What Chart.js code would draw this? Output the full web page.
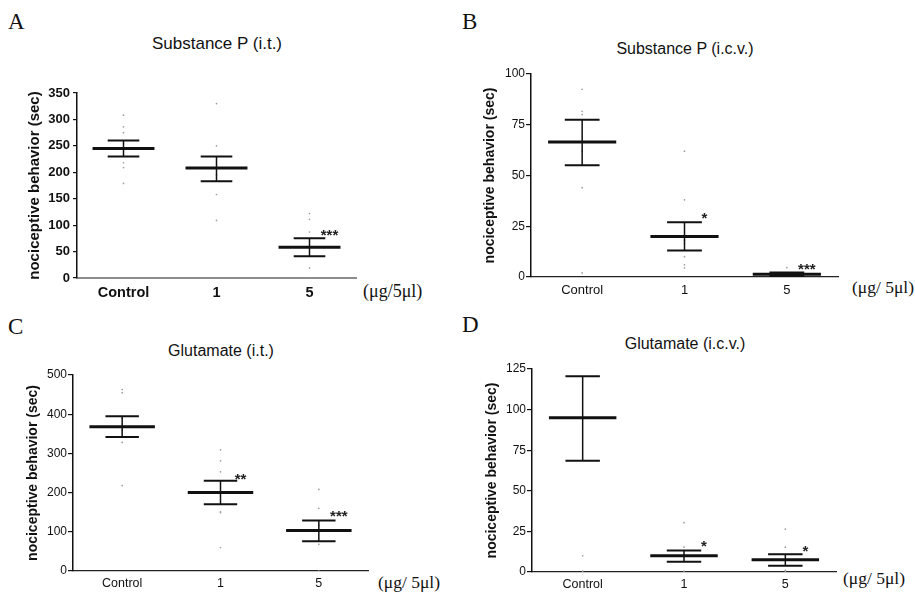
<!DOCTYPE html>
<html>
<head>
<meta charset="utf-8">
<script src="https://cdn.jsdelivr.net/npm/chart.js@4.4.1/dist/chart.umd.min.js"></script>
<style>
body { margin: 0; background: #fff; }
#wrap { position: relative; width: 915px; height: 593px; overflow: hidden; background: #fff; }
.box { position: absolute; }
.lbl { position: absolute; line-height: 1; white-space: nowrap; color: #111; }
.letter { font-family: "Liberation Serif", "Times New Roman", serif; font-size: 23px; }
.ttl { font-family: "Liberation Sans", Arial, sans-serif; font-size: 16px; text-align: center; width: 240px; }
.unit { font-family: "Liberation Serif", "Times New Roman", serif; font-size: 17.5px; }
</style>
</head>
<body>
<div id="wrap">
  <div class="lbl letter" style="left:8px;top:10px">A</div>
  <div class="lbl letter" style="left:462px;top:10px">B</div>
  <div class="lbl letter" style="left:8px;top:315px">C</div>
  <div class="lbl letter" style="left:462px;top:313px">D</div>

  <div class="lbl ttl" style="left:97px;top:35px;font-size:17px">Substance P (i.t.)</div>
  <div class="lbl ttl" style="left:565px;top:41px">Substance P (i.c.v.)</div>
  <div class="lbl ttl" style="left:101px;top:343px">Glutamate (i.t.)</div>
  <div class="lbl ttl" style="left:565px;top:336px">Glutamate (i.c.v.)</div>

  <div class="lbl unit" style="left:363px;top:282px;font-size:18px">(&mu;g/5&mu;l)</div>
  <div class="lbl unit" style="left:852px;top:279px">(&mu;g/ 5&mu;l)</div>
  <div class="lbl unit" style="left:378px;top:574px">(&mu;g/ 5&mu;l)</div>
  <div class="lbl unit" style="left:843px;top:570px">(&mu;g/ 5&mu;l)</div>

  <div class="box" style="left:0;top:60px"><canvas id="chartA" width="460" height="240"></canvas></div>
  <div class="box" style="left:460px;top:50px"><canvas id="chartB" width="455" height="250"></canvas></div>
  <div class="box" style="left:0;top:360px"><canvas id="chartC" width="460" height="233"></canvas></div>
  <div class="box" style="left:460px;top:355px"><canvas id="chartD" width="455" height="238"></canvas></div>
</div>
<script>
const categories = ['Control', '1', '5'];

// A: Substance P (i.t.)
const aControl = [308, 286, 275, 218, 209, 179];
const aDose1 = [330, 250, 195, 158, 109];
const aDose5 = [122, 111, 87, 19, 0];
const aMean = [245, 208, 58];
const aSemLow = [230, 183, 41];
const aSemHigh = [260, 230, 75];
const aStars = ['', '', '***'];
const aStarAt = [null, null, 88];

// B: Substance P (i.c.v.)
const bControl = [92.5, 81.6, 80, 62, 44, 2];
const bDose1 = [62, 38, 18, 16.5, 10, 6, 4.5];
const bDose5 = [4.6, 2, 1, 0.5];
const bMean = [66.5, 20, 1.3];
const bSemLow = [55, 13, 0.5];
const bSemHigh = [77.5, 27, 2.2];
const bStars = ['', '*', '***'];
const bStarAt = [null, 31, 5.8];

// C: Glutamate (i.t.)
const cControl = [463, 455, 390, 360, 328, 218];
const cDose1 = [309, 281, 253, 151, 149, 60];
const cDose5 = [208, 160, 117, 68, 0];
const cMean = [368, 200, 103];
const cSemLow = [342, 170, 76];
const cSemHigh = [395, 230, 129];
const cStars = ['', '**', '***'];
const cStarAt = [null, 246, 151];

// D: Glutamate (i.c.v.)
const dControl = [125.5, 10, 0.5];
const dDose1 = [30.4, 15.3, 0.5];
const dDose5 = [26.4, 15.3, 1, 0.5];
const dMean = [95, 10, 7.5];
const dSemLow = [68.5, 6.3, 3.9];
const dSemHigh = [120.6, 13.3, 11];
const dStars = ['', '*', '*'];
const dStarAt = [null, 18.4, 15.7];

const yTitle = 'nociceptive behavior (sec)';
const sans = '"Liberation Sans", Arial, sans-serif';

// mean line, SEM whisker and significance stars, drawn on the chart's scales
function meanSemPlugin(mean, low, high, stars, starAt) {
    return {
        id: 'meanSem',
        afterDatasetsDraw(chart) {
            const ctx = chart.ctx;
            const xs = chart.scales.x, ys = chart.scales.y;
            const catW = xs.getPixelForValue(1) - xs.getPixelForValue(0);
            for (let i = 0; i < mean.length; i++) {
                const cx = xs.getPixelForValue(i);
                const yLo = ys.getPixelForValue(low[i]);
                const yHi = ys.getPixelForValue(high[i]);
                const yM = ys.getPixelForValue(mean[i]);
                const capW = catW * 0.17;
                const meanW = catW * 0.333;
                ctx.save();
                ctx.strokeStyle = '#111';
                ctx.lineWidth = 1.5;
                ctx.beginPath();
                ctx.moveTo(cx, yLo);
                ctx.lineTo(cx, yHi);
                ctx.stroke();
                ctx.lineWidth = 2;
                ctx.beginPath();
                ctx.moveTo(cx - capW, yLo); ctx.lineTo(cx + capW, yLo);
                ctx.moveTo(cx - capW, yHi); ctx.lineTo(cx + capW, yHi);
                ctx.stroke();
                ctx.lineWidth = 3;
                ctx.beginPath();
                ctx.moveTo(cx - meanW, yM); ctx.lineTo(cx + meanW, yM);
                ctx.stroke();
                if (stars[i]) {
                    ctx.fillStyle = '#222';
                    ctx.font = 'bold 15px ' + sans;
                    ctx.textAlign = 'center';
                    ctx.textBaseline = 'alphabetic';
                    ctx.fillText(stars[i], cx + 20, ys.getPixelForValue(starAt[i]) + 9);
                }
                ctx.restore();
            }
        }
    };
}

function makePanel(id, groups, stats, ax) {
    let points = [];
    groups.forEach((vals, i) => {
        for (const v of vals) points.push({ x: categories[i], y: v });
    });
    return new Chart(document.getElementById(id), {
        type: 'line',
        data: {
            labels: categories,
            datasets: [{
                data: points,
                showLine: false,
                pointRadius: 0.85,
                pointBackgroundColor: '#9c9c9c',
                pointBorderWidth: 0
            }]
        },
        options: {
            responsive: false,
            animation: false,
            events: [],
            layout: { padding: { top: ax.padTop, right: ax.padRight, left: 0, bottom: 0 } },
            plugins: { legend: { display: false }, tooltip: { enabled: false } },
            scales: {
                x: {
                    type: 'category',
                    offset: true,
                    grid: { display: false, drawTicks: false },
                    border: { color: ax.xColor, width: ax.xWidth },
                    ticks: { color: '#111', padding: ax.xPad, font: { family: sans, size: ax.xSize, weight: ax.bold ? 'bold' : 'normal' } },
                    afterFit: s => { s.height = ax.xH; }
                },
                y: {
                    min: 0,
                    max: ax.max,
                    ticks: { stepSize: ax.step, color: '#111', padding: ax.yPad, font: { family: sans, size: ax.ySize, weight: ax.bold ? 'bold' : 'normal' } },
                    grid: { drawOnChartArea: false, tickLength: ax.tickLen, color: '#111', lineWidth: 1.2 },
                    border: { color: '#111', width: 1.5 },
                    title: {
                        display: true, text: yTitle, color: '#111',
                        font: { family: sans, size: ax.titleSize, weight: 'bold', lineHeight: 1 },
                        padding: { top: ax.titlePad, bottom: 0 }
                    },
                    afterFit: s => { s.width = ax.yW; }
                }
            }
        },
        plugins: [meanSemPlugin(stats[0], stats[1], stats[2], stats[3], stats[4])]
    });
}

makePanel('chartA', [aControl, aDose1, aDose5], [aMean, aSemLow, aSemHigh, aStars, aStarAt],
    { padTop: 33, padRight: 104, yW: 77, xH: 22, max: 350, step: 50, bold: true, xSize: 14.5, ySize: 13,
      xPad: 6, yPad: 3, tickLen: 4, titleSize: 15, titlePad: 27.5, xColor: '#8c8c8c', xWidth: 2 });
makePanel('chartB', [bControl, bDose1, bDose5], [bMean, bSemLow, bSemHigh, bStars, bStarAt],
    { padTop: 24, padRight: 77, yW: 71, xH: 23, max: 100, step: 25, bold: false, xSize: 13, ySize: 12,
      xPad: 6, yPad: 1, tickLen: 5, titleSize: 14, titlePad: 23, xColor: '#222', xWidth: 1.2 });
makePanel('chartC', [cControl, cDose1, cDose5], [cMean, cSemLow, cSemHigh, cStars, cStarAt],
    { padTop: 15, padRight: 92, yW: 73, xH: 22, max: 500, step: 100, bold: false, xSize: 12.5, ySize: 12,
      xPad: 5.5, yPad: 1, tickLen: 5, titleSize: 14, titlePad: 26.5, xColor: '#222', xWidth: 1.2 });
makePanel('chartD', [dControl, dDose1, dDose5], [dMean, dSemLow, dSemHigh, dStars, dStarAt],
    { padTop: 14, padRight: 79, yW: 72, xH: 21, max: 125, step: 25, bold: false, xSize: 12.5, ySize: 12,
      xPad: 5.5, yPad: 1, tickLen: 5, titleSize: 14, titlePad: 25, xColor: '#222', xWidth: 1.2 });
</script>
</body>
</html>
